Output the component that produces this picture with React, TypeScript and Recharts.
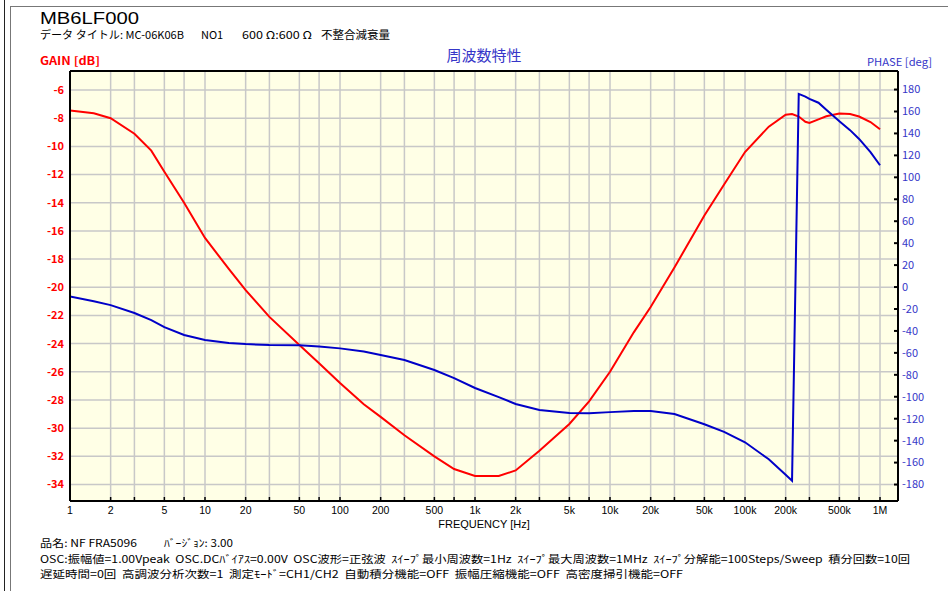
import { LineChart, Line, XAxis, YAxis, CartesianGrid } from "recharts";

// sweep points (Hz)
const freqHz = [
  1, 1.5, 2, 3, 4, 5, 7, 10, 15, 20, 30, 50, 70, 100, 150, 200, 300, 500, 700,
  1000, 1500, 2000, 3000, 5000, 7000, 10000, 15000, 20000, 30000, 50000, 70000,
  100000, 150000, 200000, 223000, 250000, 280000, 300000, 350000, 400000,
  500000, 600000, 700000, 850000, 1000000,
];

const gainDb = [
  -7.45, -7.65, -8.0, -9.1, -10.3, -11.8, -14.0, -16.5, -18.7, -20.2, -22.1,
  -24.1, -25.4, -26.8, -28.3, -29.2, -30.5, -32.0, -32.9, -33.4, -33.4, -33.0,
  -31.6, -29.7, -28.1, -26.0, -23.2, -21.4, -18.6, -14.9, -12.7, -10.4, -8.6,
  -7.75, -7.7, -7.88, -8.25, -8.33, -8.08, -7.86, -7.67, -7.7, -7.88, -8.27,
  -8.79,
];

const phaseDeg = [
  -8.7, -13, -16.5, -23.7, -30.1, -36.5, -43.7, -48.3, -51, -52, -52.9, -53,
  -54.3, -55.9, -58.8, -62, -66.5, -75.6, -83, -92, -100.3, -106.6, -112,
  -114.9, -115, -114, -113, -113, -115.8, -125, -132, -141.5, -157, -171,
  -176.5, 176, 173.5, 171.5, 168, 161.5, 151, 143, 135, 123, 111,
];

const freqTicks = [
  1, 2, 3, 5, 7, 10, 20, 30, 50, 70, 100, 200, 300, 500, 700, 1000, 2000, 3000,
  5000, 7000, 10000, 20000, 30000, 50000, 70000, 100000, 200000, 300000,
  500000, 700000, 1000000,
];
const freqLabelTicks = [
  1, 2, 5, 10, 20, 50, 100, 200, 500, 1000, 2000, 5000, 10000, 20000, 50000,
  100000, 200000, 500000, 1000000,
];
const freqLabels = [
  "1", "2", "5", "10", "20", "50", "100", "200", "500", "1k", "2k", "5k",
  "10k", "20k", "50k", "100k", "200k", "500k", "1M",
];
const gainTicks = [-34, -32, -30, -28, -26, -24, -22, -20, -18, -16, -14, -12, -10, -8, -6];
const phaseTicks = [
  -180, -160, -140, -120, -100, -80, -60, -40, -20, 0, 20, 40, 60, 80, 100,
  120, 140, 160, 180,
];

const data = freqHz.map((f, i) => ({ f, gain: gainDb[i], phase: phaseDeg[i] }));

const JP = "'Noto Sans CJK JP', sans-serif";
const LAT = "'Liberation Sans', Arial, sans-serif";
const BLUE_TXT = "#3636c8";

const BottomTick = (props: any) => {
  const { x, y, payload } = props;
  const i = freqLabelTicks.indexOf(payload.value);
  return (
    <g>
      <line x1={x} x2={x} y1={y - 4} y2={y} stroke="#000" strokeWidth={1.5} />
      {i >= 0 && (
        <text x={x} y={y + 13} textAnchor="middle" fontSize={10.5} fill="#000" fontFamily={LAT}>
          {freqLabels[i]}
        </text>
      )}
    </g>
  );
};

const TopTick = (props: any) => {
  const { x, y } = props;
  return <line x1={x} x2={x} y1={y} y2={y + 4} stroke="#000" strokeWidth={1.5} />;
};

const PhaseTick = (props: any) => {
  const { x, y, payload } = props;
  return (
    <g>
      <line x1={x - 8} x2={x - 4} y1={y} y2={y} stroke="#000" strokeWidth={2} />
      <text x={x} y={y} dy="0.35em" fontSize={11} fill={BLUE_TXT} fontFamily={JP}>
        {payload.value}
      </text>
    </g>
  );
};

const Overlay = () => (
  <svg
    width={948}
    height={591}
    style={{ position: "absolute", left: 0, top: 0, pointerEvents: "none" }}
  >
    {/* window frame */}
    <line x1={4.5} x2={4.5} y1={0} y2={591} stroke="#222" strokeWidth={1} />
    <line x1={10.5} x2={10.5} y1={6} y2={591} stroke="#777" strokeWidth={1} />
    <line x1={10} x2={948} y1={6.5} y2={6.5} stroke="#777" strokeWidth={1} />

    <text x={40} y={23.5} fontSize={17} fontFamily={LAT} fill="#000" textLength={99} lengthAdjust="spacingAndGlyphs">
      MB6LF000
    </text>
    <text x={40} y={39} fontSize={11} fontFamily={JP} fill="#000" textLength={144} lengthAdjust="spacingAndGlyphs">
      データ タイトル: MC-06K06B
    </text>
    <text x={201} y={39} fontSize={11} fontFamily={JP} fill="#000">
      NO1
    </text>
    <text x={242} y={39} fontSize={11} fontFamily={JP} fill="#000" textLength={70} lengthAdjust="spacingAndGlyphs">
      600 Ω:600 Ω
    </text>
    <text x={321} y={39} fontSize={11} fontFamily={JP} fill="#000" textLength={69} lengthAdjust="spacingAndGlyphs">
      不整合減衰量
    </text>

    <text x={40} y={65} fontSize={11} fontWeight="bold" fontFamily={JP} fill="#ff0000" textLength={60} lengthAdjust="spacingAndGlyphs">
      GAIN [dB]
    </text>
    <text x={484} y={61} fontSize={15} fontFamily={JP} fill={BLUE_TXT} textAnchor="middle">
      周波数特性
    </text>
    <text x={867} y={66} fontSize={11} fontFamily={JP} fill={BLUE_TXT} textLength={65} lengthAdjust="spacingAndGlyphs">
      PHASE [deg]
    </text>

    <text x={484} y={528} fontSize={11} fontFamily={LAT} fill="#000" textAnchor="middle">
      FREQUENCY [Hz]
    </text>

    <text x={40} y={547} fontSize={10.5} fontFamily={JP} fill="#000" textLength={97} lengthAdjust="spacingAndGlyphs">
      品名: NF FRA5096
    </text>
    <text x={164} y={547} fontSize={10.5} fontFamily={JP} fill="#000" textLength={69} lengthAdjust="spacingAndGlyphs">
      ﾊﾞｰｼﾞｮﾝ: 3.00
    </text>
    <text
      x={40}
      y={562.5}
      fontSize={10.5}
      fontFamily={JP}
      fill="#000"
      xmlSpace="preserve"
      style={{ whiteSpace: "pre" }}
      textLength={870}
      lengthAdjust="spacingAndGlyphs"
    >
      {"OSC:振幅値=1.00Vpeak  OSC.DCﾊﾞｲｱｽ=0.00V  OSC波形=正弦波  ｽｲｰﾌﾟ最小周波数=1Hz  ｽｲｰﾌﾟ最大周波数=1MHz  ｽｲｰﾌﾟ分解能=100Steps/Sweep  積分回数=10回"}
    </text>
    <text
      x={40}
      y={578}
      fontSize={10.5}
      fontFamily={JP}
      fill="#000"
      xmlSpace="preserve"
      style={{ whiteSpace: "pre" }}
      textLength={643}
      lengthAdjust="spacingAndGlyphs"
    >
      {"遅延時間=0回  高調波分析次数=1  測定ﾓｰﾄﾞ=CH1/CH2  自動積分機能=OFF  振幅圧縮機能=OFF  高密度掃引機能=OFF"}
    </text>
  </svg>
);

const App = () => (
  <div style={{ position: "absolute", left: 0, top: 0, width: 948, height: 591, background: "#fff" }}>
    <LineChart width={948} height={591} data={data} margin={{ top: 70, right: 5, bottom: 60, left: 30 }}>
      <CartesianGrid
        xAxisId="f"
        yAxisId="gain"
        fill="#ffffe6"
        stroke="#c8c8c8"
        strokeWidth={1.5}
        fillOpacity={1}
      />
      <XAxis
        xAxisId="f"
        dataKey="f"
        type="number"
        scale="log"
        domain={[1, 1359000]}
        allowDataOverflow
        ticks={freqTicks}
        interval={0}
        height={30}
        tickSize={0}
        tickMargin={0}
        tickLine={false}
        axisLine={{ stroke: "#000", strokeWidth: 2 }}
        tick={BottomTick}
      />
      <XAxis
        xAxisId="top"
        orientation="top"
        type="number"
        scale="log"
        domain={[1, 1359000]}
        allowDataOverflow
        ticks={freqTicks}
        interval={0}
        height={1}
        tickSize={0}
        tickMargin={0}
        tickLine={false}
        axisLine={{ stroke: "#000", strokeWidth: 2 }}
        tick={TopTick}
      />
      <YAxis
        yAxisId="gain"
        type="number"
        domain={[-35.17, -4.65]}
        allowDataOverflow
        ticks={gainTicks}
        interval={0}
        width={40}
        tickSize={0}
        tickMargin={6}
        tickLine={false}
        axisLine={{ stroke: "#000", strokeWidth: 2 }}
        tick={{ fill: "#ff0000", fontSize: 11, fontWeight: "bold", fontFamily: JP }}
      />
      <YAxis
        yAxisId="phase"
        orientation="right"
        type="number"
        domain={[-195, 196.9]}
        allowDataOverflow
        ticks={phaseTicks}
        interval={0}
        width={45}
        tickSize={0}
        tickMargin={4}
        tickLine={false}
        axisLine={{ stroke: "#000", strokeWidth: 2 }}
        tick={PhaseTick}
      />
      <Line
        xAxisId="f"
        yAxisId="gain"
        dataKey="gain"
        type="linear"
        stroke="#ff0000"
        strokeWidth={2}
        dot={false}
        isAnimationActive={false}
      />
      <Line
        xAxisId="f"
        yAxisId="phase"
        dataKey="phase"
        type="linear"
        stroke="#0000c8"
        strokeWidth={2}
        dot={false}
        isAnimationActive={false}
      />
    </LineChart>
    <Overlay />
  </div>
);

export default App;
